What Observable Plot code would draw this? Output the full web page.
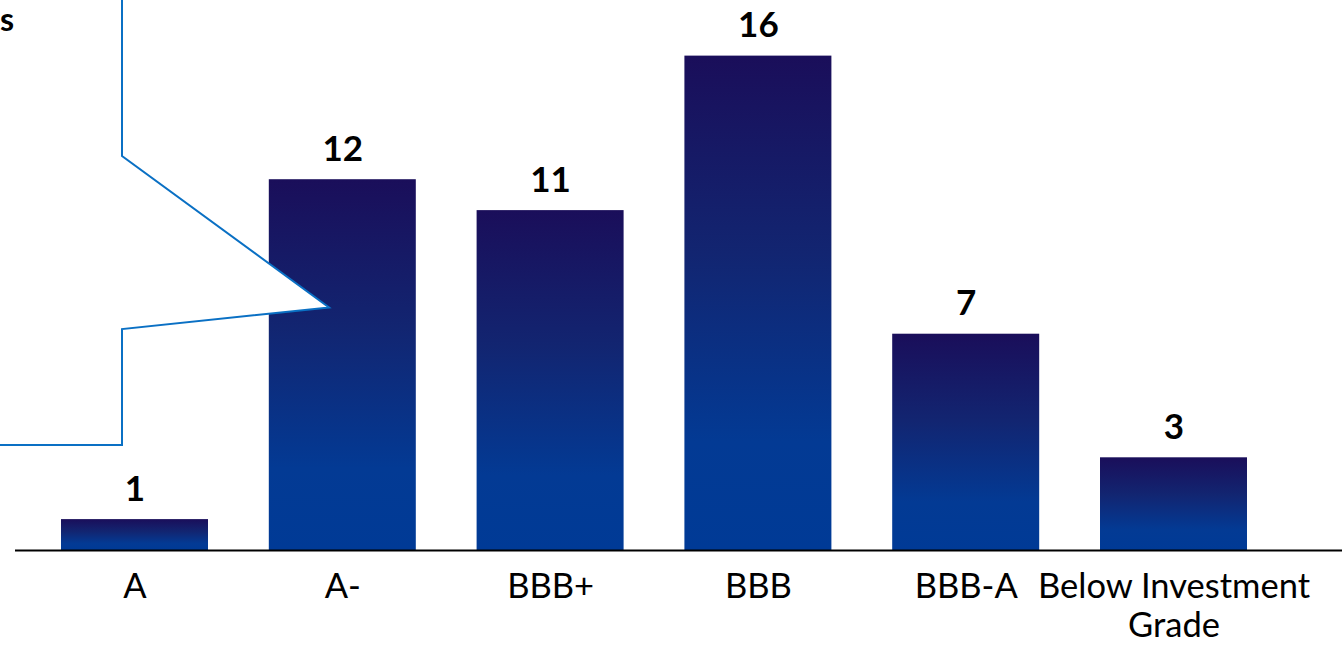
<!DOCTYPE html>
<html>
<head>
<meta charset="utf-8">
<script src="https://cdn.jsdelivr.net/npm/d3@7"></script>
<script src="https://cdn.jsdelivr.net/npm/@observablehq/plot@0.6"></script>
<style>
  html, body { margin: 0; padding: 0; background: #ffffff; }
  #chart { width: 1342px; height: 645px; overflow: hidden; }
</style>
</head>
<body>
<div id="chart"></div>
<script>
// ---- data ----
const categories = ["A", "A-", "BBB+", "BBB", "BBB-A", "Below Investment Grade"];
const counts = [1, 12, 11, 16, 7, 3];
const tickLabels = ["A", "A-", "BBB+", "BBB", "BBB-A", "Below Investment\nGrade"];
const calloutText = ["s"];

const data = categories.map((c, i) => ({category: c, count: counts[i]}));
const labelOf = new Map(categories.map((c, i) => [c, tickLabels[i]]));

// gradient definition for the bars
function gradientDefs() {
  const defs = d3.create("svg:defs");
  const g = defs.append("linearGradient")
    .attr("id", "barGrad")
    .attr("x1", 0).attr("y1", 0).attr("x2", 0).attr("y2", 1);
  g.append("stop").attr("offset", "0%").attr("stop-color", "#1a0e5a");
  g.append("stop").attr("offset", "40%").attr("stop-color", "#122571");
  g.append("stop").attr("offset", "78%").attr("stop-color", "#033a94");
  g.append("stop").attr("offset", "100%").attr("stop-color", "#003a96");
  return defs.node();
}

// callout shape (partially off-canvas) pointing at the A- bar
function callout(index, scales) {
  const x = scales.x, y = scales.y;
  const bw = typeof x.bandwidth === "function" ? x.bandwidth() : x.bandwidth;
  const xa = x("A") + 0.415 * bw;
  const xt = x("A-") + 0.41 * bw;
  const p = d3.path();
  p.moveTo(-20, -20);
  p.lineTo(xa, -20);
  p.lineTo(xa, y(12.75));
  p.lineTo(xt, y(7.85));
  p.lineTo(xa, y(7.15));
  p.lineTo(xa, y(3.4));
  p.lineTo(-20, y(3.4));
  p.closePath();
  const g = d3.create("svg:g");
  g.append("path")
    .attr("d", p.toString())
    .attr("fill", "white")
    .attr("stroke", "#0a70c4")
    .attr("stroke-width", 2);
  g.append("text")
    .attr("x", 0)
    .attr("y", 31)
    .attr("text-anchor", "start")
    .attr("font-weight", "bold")
    .attr("font-size", 32)
    .attr("fill", "black")
    .text(calloutText[0]);
  return g.node();
}

const chart = Plot.plot({
  width: 1342,
  height: 645,
  marginTop: 0,
  marginBottom: 95,
  marginLeft: 15,
  marginRight: 0,
  style: {fontFamily: "Lato, 'Open Sans', sans-serif", fontSize: "34px", background: "white", color: "black"},
  x: {domain: categories, range: [0.2, 1307.8], padding: 0.2926, round: false, label: null},
  y: {domain: [0, 17.8], axis: null},
  marks: [
    gradientDefs,
    Plot.barY(data, {x: "category", y: "count", fill: "url(#barGrad)"}),
    callout,
    Plot.text(data, {
      x: "category", y: "count", text: d => String(d.count),
      dy: -30, fontWeight: "bold", fontSize: 35, fill: "black"
    }),
    Plot.ruleY([0], {stroke: "black", strokeWidth: 2}),
    Plot.axisX({
      tickSize: 0, tickPadding: 20, fontSize: 34.5, lineHeight: 1.12,
      tickFormat: d => labelOf.get(d), label: null, fill: "black"
    })
  ]
});
document.getElementById("chart").appendChild(chart);
</script>
</body>
</html>
